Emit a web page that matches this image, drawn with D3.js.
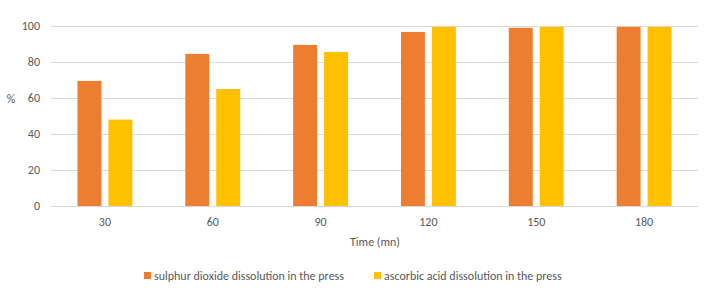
<!DOCTYPE html>
<html>
<head>
<meta charset="utf-8">
<script src="https://cdn.jsdelivr.net/npm/d3@7"></script>
<style>
  body { margin: 0; background: #fff; }
  text { font-family: Carlito, "Open Sans", "Liberation Sans", sans-serif; fill: #595959; }
</style>
</head>
<body>
<svg id="chart" width="707" height="290"></svg>
<script>
const times = ["30", "60", "90", "120", "150", "180"]
const sulphur = [69.5, 84.5, 89.5, 96.7, 99, 99.5]
const ascorbic = [48, 65, 85.5, 99.5, 99.5, 99.5]
const seriesNames = ["sulphur dioxide dissolution in the press", "ascorbic acid dissolution in the press"]
const yTicks = [0, 20, 40, 60, 80, 100]
const colors = ["#ed7d31", "#ffc000"]

const svg = d3.select('#chart')
const plotLeft = 51, plotRight = 698, plotTop = 26, plotBottom = 206

const x = d3.scaleBand().domain(times).range([plotLeft, plotRight])
const y = d3.scaleLinear().domain([0, 100]).range([plotBottom, plotTop])

// gridlines
svg.append("g").selectAll("line")
  .data(yTicks)
  .join("line")
  .attr("x1", plotLeft).attr("x2", plotRight)
  .attr("y1", d => Math.round(y(d)) + 0.5).attr("y2", d => Math.round(y(d)) + 0.5)
  .attr("stroke", "#d9d9d9")
  .attr("stroke-width", 1)

// y labels
svg.append("g").selectAll("text")
  .data(yTicks)
  .join("text")
  .attr("x", 40)
  .attr("y", d => y(d) + 4)
  .attr("text-anchor", "end")
  .style("font-size", "12px")
  .text(d => d)

svg.append("text")
  .attr("x", 11).attr("y", 103)
  .attr("text-anchor", "middle")
  .style("font-size", "12px")
  .text("%")

const barW = x.step() * 0.222
const gap = x.step() * 0.065
const series = [sulphur, ascorbic]

series.forEach(function(vals, i) {
  svg.append("g").selectAll("rect")
    .data(times)
    .join("rect")
    .attr("x", (d) => x(d) + x.bandwidth() / 2 - gap / 2 - barW + i * (barW + gap))
    .attr("y", (d, j) => y(vals[j]))
    .attr("width", barW)
    .attr("height", (d, j) => plotBottom - y(vals[j]))
    .attr("fill", colors[i])
})

// x labels
svg.append("g").selectAll("text")
  .data(times)
  .join("text")
  .attr("x", d => x(d) + x.bandwidth() / 2)
  .attr("y", 226)
  .attr("text-anchor", "middle")
  .style("font-size", "12px")
  .text(d => d)

svg.append("text")
  .attr("x", 375).attr("y", 246)
  .attr("text-anchor", "middle")
  .style("font-size", "12px")
  .text("Time (mn)")

// legend
const legendX = [144, 374]
seriesNames.forEach(function(name, i) {
  svg.append("rect")
    .attr("x", legendX[i]).attr("y", 272)
    .attr("width", 7).attr("height", 7)
    .attr("fill", colors[i])
  svg.append("text")
    .attr("x", legendX[i] + 10).attr("y", 280)
    .style("font-size", "12px")
    .text(name)
})
</script>
</body>
</html>
